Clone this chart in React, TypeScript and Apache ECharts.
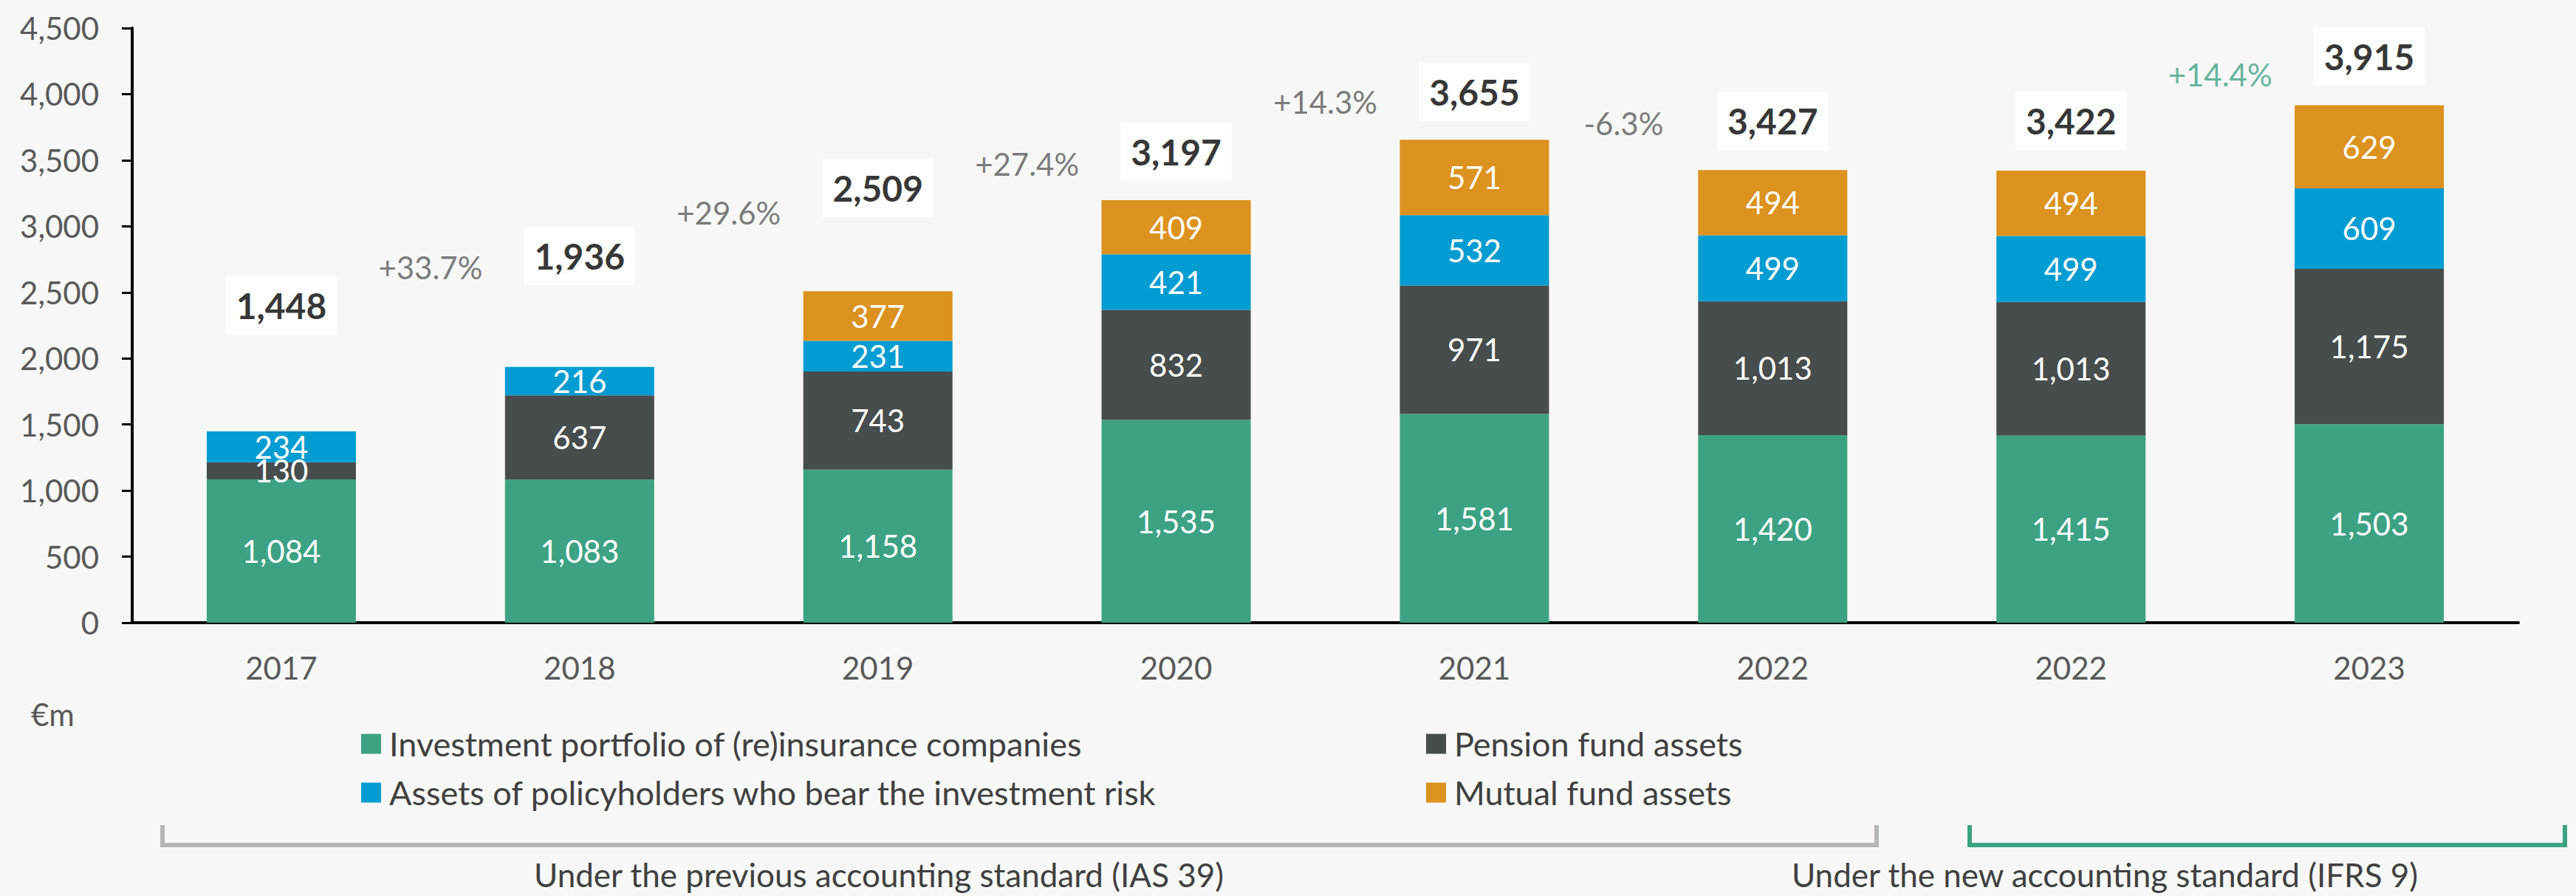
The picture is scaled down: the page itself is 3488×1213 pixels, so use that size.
import React, { useEffect, useRef } from "react";
import * as echarts from "echarts";

// ---------- data ----------
const categories = ["2017", "2018", "2019", "2020", "2021", "2022", "2022", "2023"];
const investmentPortfolio = [1084, 1083, 1158, 1535, 1581, 1420, 1415, 1503];
const pensionFund = [130, 637, 743, 832, 971, 1013, 1013, 1175];
const policyholderAssets = [234, 216, 231, 421, 532, 499, 499, 609];
const mutualFund = [null, null, 377, 409, 571, 494, 494, 629];
const totals = [1448, 1936, 2509, 3197, 3655, 3427, 3422, 3915];
const growthLabels = ["+33.7%", "+29.6%", "+27.4%", "+14.3%", "-6.3%", "+14.4%"];
const growthBoundary = [1, 2, 3, 4, 5, 7];
const growthLabelY = [2690, 3100, 3470, 3940, 3780, 4150];
const yTicks = { min: 0, max: 4500, interval: 500 };

const seriesNames = [
  "Investment portfolio of (re)insurance companies",
  "Pension fund assets",
  "Assets of policyholders who bear the investment risk",
  "Mutual fund assets",
];

// ---------- styles ----------
const FONT = "Lato";
const colors = ["#3DA284", "#474C4C", "#009CD2", "#DC921E"];
const totalLabelLift = [170, 150, 140, 66, 65, 66, 67, 66];
const growthColors = ["#595959", "#595959", "#595959", "#595959", "#595959", "#3DA284"];

const fmt = (v: number) => v.toLocaleString("en-US");

export default function App() {
  const ref = useRef<HTMLDivElement>(null);
  useEffect(() => {
    document.body.style.margin = "0";
    document.body.style.overflow = "hidden";
    const chart = echarts.init(ref.current!, undefined, { renderer: "svg" });
    const barSeries = [investmentPortfolio, pensionFund, policyholderAssets, mutualFund].map(
      (arr, i) => ({
        name: seriesNames[i],
        type: "bar",
        stack: "total",
        barWidth: 202,
        itemStyle: { color: colors[i] },
        label: {
          show: true,
          position: "inside",
          color: "#ffffff",
          fontFamily: FONT,
          fontSize: 42,
          formatter: (p: any) => (p.value == null ? "" : fmt(p.value)),
        },
        data: arr,
      })
    );
    const legendText = {
      fontSize: 45,
      color: "#404040",
      fontFamily: FONT,
      lineHeight: 46,
      padding: [0, 0, 0, 6],
    };
    const option: any = {
      animation: false,
      backgroundColor: "#F7F7F7",
      textStyle: { fontFamily: FONT },
      grid: { left: 179, right: 78, top: 38, bottom: 370 },
      xAxis: [
        {
          type: "category",
          data: categories,
          axisLine: { lineStyle: { color: "#000", width: 4 } },
          axisTick: { show: false },
          axisLabel: { margin: 40, fontSize: 42, color: "#595959", fontFamily: FONT },
        },
        { type: "value", min: 0, max: 8, show: false },
      ],
      yAxis: {
        type: "value",
        min: yTicks.min,
        max: yTicks.max,
        interval: yTicks.interval,
        splitLine: { show: false },
        axisLine: { show: true, lineStyle: { color: "#000", width: 4 } },
        axisTick: { show: true, length: 14, lineStyle: { color: "#000", width: 3 } },
        axisLabel: {
          margin: 45,
          fontSize: 42,
          color: "#595959",
          fontFamily: FONT,
          formatter: (v: number) => fmt(v),
        },
      },
      legend: [
        {
          data: [seriesNames[0], seriesNames[2]],
          orient: "vertical",
          left: 484,
          top: 979,
          icon: "rect",
          itemWidth: 27,
          itemHeight: 27,
          itemGap: 20,
          textStyle: legendText,
        },
        {
          data: [seriesNames[1], seriesNames[3]],
          orient: "vertical",
          left: 1926,
          top: 979,
          icon: "rect",
          itemWidth: 27,
          itemHeight: 27,
          itemGap: 20,
          textStyle: legendText,
        },
      ],
      series: [
        ...barSeries,
        {
          name: "totals",
          type: "scatter",
          symbolSize: 0,
          z: 10,
          data: totals.map((t, i) => ({
            value: t,
            label: {
              show: true,
              position: "inside",
              offset: [0, -totalLabelLift[i]],
              formatter: fmt(t),
              backgroundColor: "#ffffff",
              padding: [10, 14],
              fontSize: 48,
              lineHeight: 59,
              fontWeight: "bold",
              color: "#000",
              fontFamily: FONT,
            },
          })),
        },
        {
          name: "growth",
          type: "scatter",
          xAxisIndex: 1,
          symbolSize: 0,
          z: 10,
          data: growthLabels.map((g, i) => ({
            value: [growthBoundary[i], growthLabelY[i]],
            label: {
              show: true,
              position: "inside",
              formatter: g,
              fontSize: 42,
              color: growthColors[i],
              fontFamily: FONT,
            },
          })),
        },
      ],
      graphic: [
        {
          type: "text",
          left: 42,
          top: 946,
          style: { text: "€m", fontSize: 42, fill: "#595959", fontFamily: FONT },
        },
        {
          type: "polyline",
          shape: { points: [[220, 1117], [220, 1144], [2541, 1144], [2541, 1117]] },
          style: { stroke: "#B3B7B7", lineWidth: 6, fill: "none" },
        },
        {
          type: "polyline",
          shape: { points: [[2667, 1117], [2667, 1144], [3473, 1144], [3473, 1117]] },
          style: { stroke: "#3DA284", lineWidth: 6, fill: "none" },
        },
        {
          type: "text",
          x: 1190,
          y: 1184,
          style: {
            text: "Under the previous accounting standard (IAS 39)",
            fontSize: 44,
            fill: "#404040",
            fontFamily: FONT,
            align: "center",
            verticalAlign: "middle",
          },
        },
        {
          type: "text",
          x: 2850,
          y: 1184,
          style: {
            text: "Under the new accounting standard (IFRS 9)",
            fontSize: 44,
            fill: "#404040",
            fontFamily: FONT,
            align: "center",
            verticalAlign: "middle",
          },
        },
      ],
    };
    chart.setOption(option);
    return () => chart.dispose();
  }, []);
  return <div ref={ref} style={{ width: 3488, height: 1213 }} />;
}
